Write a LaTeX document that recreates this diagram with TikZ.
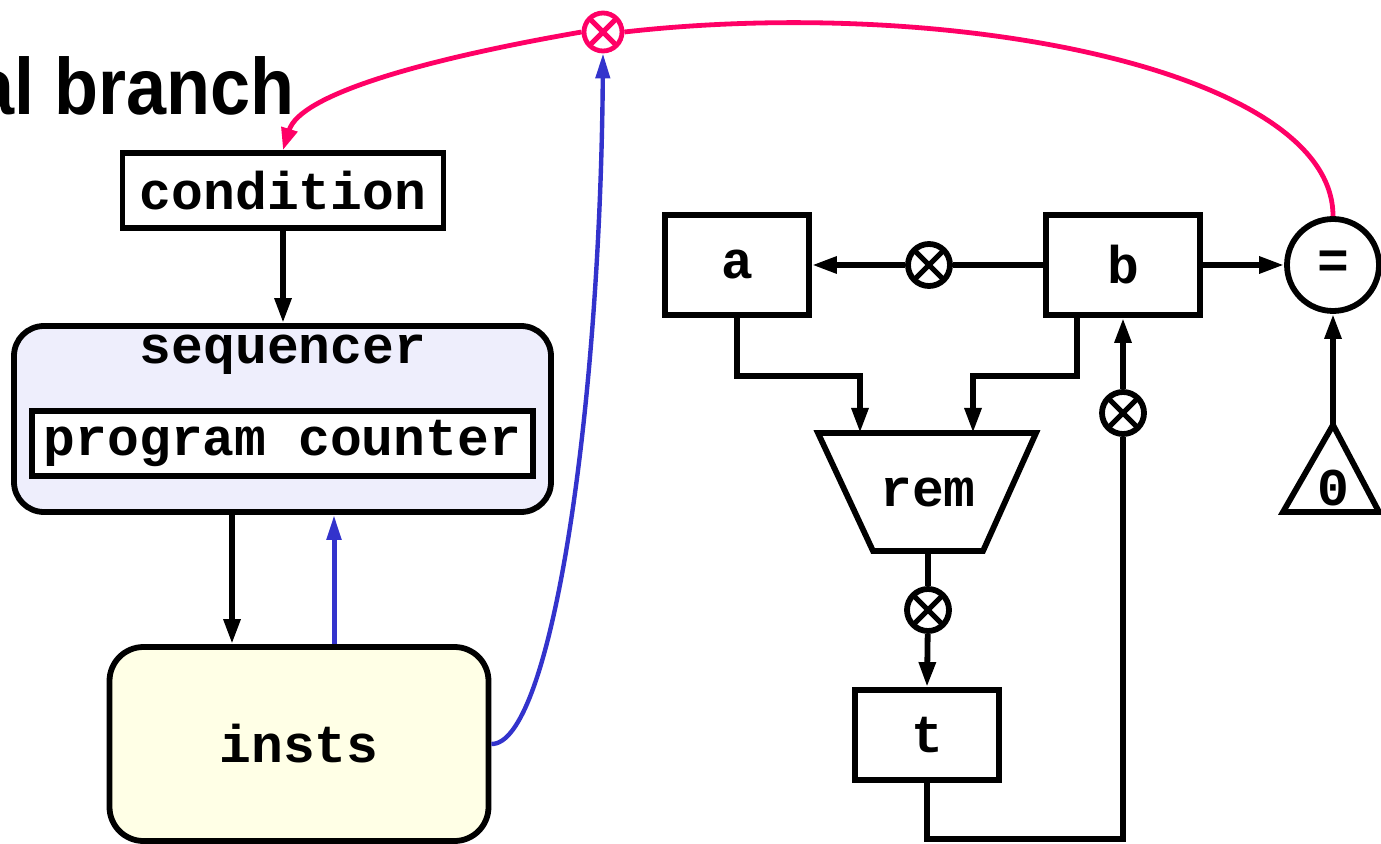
\documentclass[tikz,border=0pt]{standalone}
\usepackage{fontspec}
\setmonofont{Liberation Mono}
\setsansfont{Liberation Sans}
\usetikzlibrary{arrows.meta,calc}
\definecolor{hot}{HTML}{FF0066}
\definecolor{ctl}{HTML}{3333CC}
\definecolor{seqfill}{HTML}{EEEEFC}
\definecolor{memfill}{HTML}{FFFFE6}
\tikzset{
  lbl/.style={font=\ttfamily\bfseries\fontsize{26.5}{30}\selectfont},
  reg/.style={lbl, draw, line width=2.9pt, fill=white, inner sep=0pt},
  wire/.style={line width=2.9pt},
  arrow/.style={wire, -{Triangle[length=12.5pt,width=8pt]}},
  mulnode/.style={circle, draw=#1, line width=2.9pt, fill=white, minimum size=21pt, inner sep=0pt,
    path picture={\draw[#1, line width=2.6pt]
      (path picture bounding box.north west) -- (path picture bounding box.south east)
      (path picture bounding box.south west) -- (path picture bounding box.north east);}},
  mulnode/.default=black
}
\begin{document}
\begin{tikzpicture}[x=0.5pt,y=-0.5pt]
\useasboundingbox (0,0) rectangle (1381,844);

% title
\node[anchor=base east, inner sep=0pt, font=\sffamily\bfseries\fontsize{40}{44}\selectfont]
  (title) at (295,115) {\scalebox{0.9}[1]{al branch}};

% control side
\node[reg, minimum width=160.5pt, minimum height=37.5pt] (cond) at (283,190.5) {condition};
\node[draw, line width=2.9pt, fill=seqfill, rounded corners=15pt,
      minimum width=268.5pt, minimum height=93pt] (seq) at (282.5,419) {};
\node[lbl] (seqlbl) at (283,355) {sequencer};
\node[reg, minimum width=250.5pt, minimum height=32.5pt] (pc) at (282.5,443.5) {program counter};
\node[lbl, draw, line width=2.9pt, fill=memfill, rounded corners=17pt,
      minimum width=189.5pt, minimum height=97pt] (insts) at (299,744) {insts};

\draw[arrow] (cond.south) -- (seq.north -| cond.south);
\draw[arrow] (seq.south -| 232,0) -- (insts.north -| 232,0);
\draw[ctl, line width=2.5pt, -{Triangle[length=12.5pt,width=7pt]}] (insts.north -| 334,0) -- (seq.south -| 334,0);

% datapath
\node[reg, minimum width=72pt, minimum height=50pt] (a) at (737,265) {a};
\node[reg, minimum width=77pt, minimum height=50pt] (b) at (1123,265) {b};
\node[reg, circle, minimum size=46pt] (eq) at (1333,265) {=};
\node[reg, minimum width=72pt, minimum height=45pt] (t) at (927,735) {t};

\node[mulnode] (m1) at (929,265) {};
\node[mulnode] (m2) at (928,610) {};
\node[mulnode] (m3) at (1123,413) {};
\node[mulnode=hot, line width=2.4pt, minimum size=19pt] (mc) at (603,32) {};

% remainder unit
\draw[line width=2.9pt, fill=white] (818,433) -- (1036,433) -- (983,551) -- (873,551) -- cycle;
\node[lbl] (rem) at (928,492) {rem};
\coordinate (remA) at (860,433);
\coordinate (remB) at (973,433);
\coordinate (remO) at (928,551);

% constant zero
\draw[line width=2.9pt] (1333,425) -- (1283,512) -- (1379,512) -- cycle;
\node[lbl] (zero) at (1333,488) {0};
\coordinate (zapex) at (1333,425);

\draw[wire] (b.west) -- (m1);
\draw[arrow] (m1) -- (a.east);
\draw[arrow] (b.east) -- (eq.west);
\draw[arrow] (zapex) -- (eq.south);
\draw[arrow] (a.south) -- ++(0,58) -| (remA);
\draw[arrow] ($(b.south)+(-46,0)$) -- ++(0,58) -| (remB);
\draw[wire] (remO) -- (m2);
\draw[arrow] (m2) -- (t.north);
\draw[wire] (t.south) -- ++(0,56) -| (m3);
\draw[arrow] (m3) -- (b.south);

% condition feedback
\draw[hot, line width=2.4pt] (eq.north) .. controls (1333,70) and (950,-5) .. (mc.east);
\draw[hot, line width=2.4pt, -{Triangle[length=11pt,width=8pt]}]
  (mc.west) .. controls (420,60) and (300,95) .. (cond.north);
\draw[ctl, line width=2.2pt, -{Triangle[length=12.5pt,width=7pt]}]
  (insts.east) .. controls (550,745) and (600,420) .. (mc.south);
\end{tikzpicture}
\end{document}
